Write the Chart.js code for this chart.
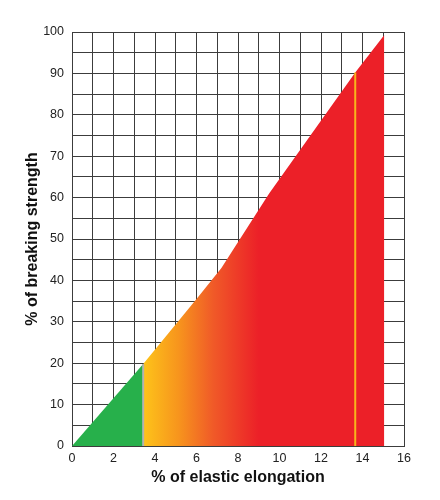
<!DOCTYPE html>
<html>
<head>
<meta charset="utf-8">
<script src="https://cdn.jsdelivr.net/npm/chart.js@4"></script>
<style>
  html, body { margin: 0; padding: 0; background: #fff; }
  #wrap { width: 440px; height: 500px; }
</style>
</head>
<body>
<div id="wrap"><canvas id="chart" width="440" height="500"></canvas></div>
<script>
// curve: elongation (%) vs breaking strength (%)
const elongation = [0, 3.43, 6, 7.2, 9.5, 13.65, 15.05];
const strength   = [0, 19.8, 35.5, 43, 61, 90.2, 99.3];
const elasticLimit = 3.43;   // end of green zone
const markerX = 13.65;       // yellow marker line
const markerY = 90.2;

const xTicks = [0, 2, 4, 6, 8, 10, 12, 14, 16];
const yTicks = [0, 10, 20, 30, 40, 50, 60, 70, 80, 90, 100];

const pts = elongation.map((x, i) => ({ x: x, y: strength[i] }));
const greenPts = pts.filter(p => p.x <= elasticLimit);
const hotPts = pts.filter(p => p.x >= elasticLimit);

function hotGradient(ctx) {
  const chart = ctx.chart;
  const area = chart.chartArea;
  if (!area) return '#ec2028';
  const xs = chart.scales.x;
  const x0 = xs.getPixelForValue(3.5);
  const x1 = xs.getPixelForValue(9);
  const g = chart.ctx.createLinearGradient(x0, 0, x1, 0);
  g.addColorStop(0, '#fdc21a');
  g.addColorStop(0.3, '#f7941d');
  g.addColorStop(0.6, '#f05a28');
  g.addColorStop(1, '#ec2028');
  return g;
}

new Chart(document.getElementById('chart'), {
  type: 'line',
  data: {
    datasets: [
      {
        data: greenPts,
        borderWidth: 0,
        pointRadius: 0,
        fill: 'origin',
        backgroundColor: '#27b04b',
        order: 3
      },
      {
        data: hotPts,
        borderWidth: 0,
        pointRadius: 0,
        fill: 'origin',
        backgroundColor: hotGradient,
        order: 3
      },
      {
        data: [{ x: elasticLimit, y: 0 }, { x: elasticLimit, y: strength[1] }],
        borderColor: '#b3b3b3',
        borderWidth: 2,
        pointRadius: 0,
        fill: false,
        order: 1
      },
      {
        data: [{ x: markerX, y: 0 }, { x: markerX, y: markerY }],
        borderColor: '#f7b51c',
        borderWidth: 2,
        pointRadius: 0,
        fill: false,
        order: 1
      }
    ]
  },
  options: {
    responsive: false,
    animation: false,
    layout: { padding: { top: 32, right: 36, left: 0, bottom: 0 } },
    plugins: { legend: { display: false }, tooltip: { enabled: false } },
    scales: {
      x: {
        type: 'linear',
        min: 0, max: 16,
        ticks: {
          stepSize: 1,
          autoSkip: false,
          maxRotation: 0,
          padding: 5,
          color: '#222',
          font: { family: 'Liberation Sans, Arial', size: 12.5 },
          callback: v => xTicks.includes(v) ? String(v) : ''
        },
        grid: { color: '#3c3c3c', lineWidth: 1, drawTicks: false },
        border: { color: '#3c3c3c', width: 1 },
        title: {
          display: true,
          text: '% of elastic elongation',
          color: '#111',
          font: { family: 'Liberation Sans, Arial', size: 16, weight: 'bold' },
          padding: { top: 0, bottom: 13 }
        },
        afterFit: s => { s.height = 54; }
      },
      y: {
        min: 0, max: 100,
        ticks: {
          stepSize: 5,
          autoSkip: false,
          padding: 8,
          color: '#222',
          font: { family: 'Liberation Sans, Arial', size: 12.5 },
          callback: v => yTicks.includes(v) ? String(v) : ''
        },
        grid: { color: '#3c3c3c', lineWidth: 1, drawTicks: false },
        border: { color: '#3c3c3c', width: 1 },
        title: {
          display: true,
          text: '% of breaking strength',
          color: '#111',
          font: { family: 'Liberation Sans, Arial', size: 16, weight: 'bold' },
          padding: { top: 23, bottom: 0 }
        },
        afterFit: s => { s.width = 72; }
      }
    }
  }
});
</script>
</body>
</html>
